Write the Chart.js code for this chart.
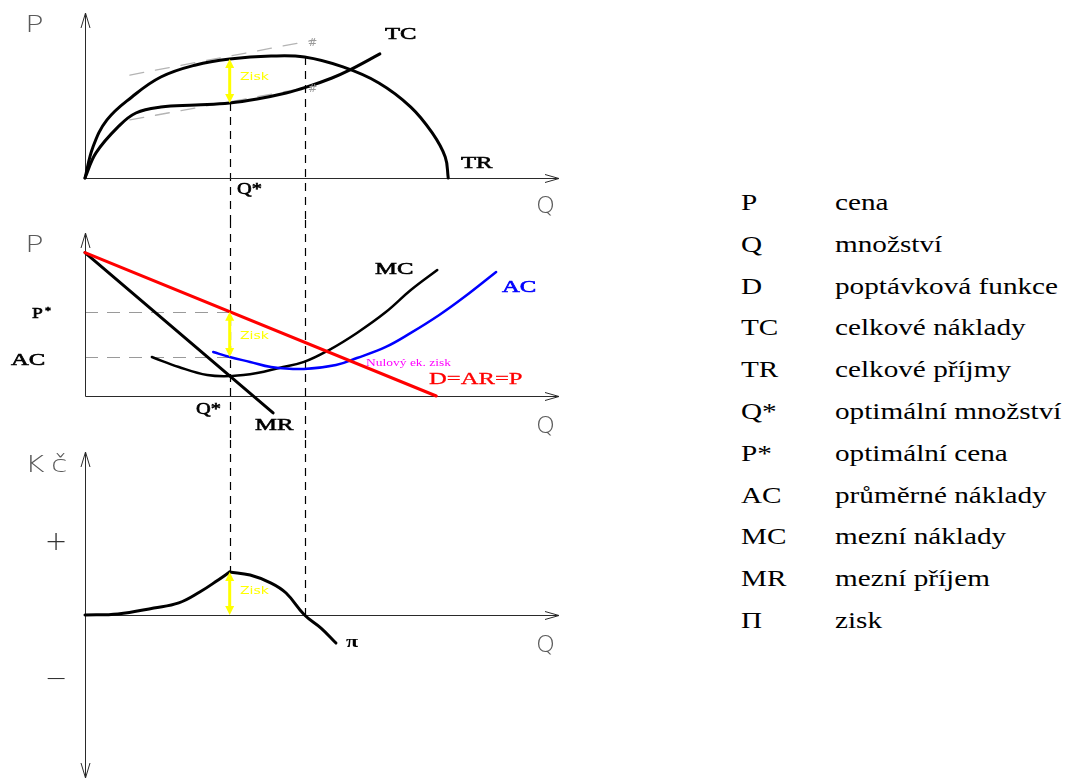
<!DOCTYPE html>
<html>
<head>
<meta charset="utf-8">
<script src="https://cdn.jsdelivr.net/npm/chart.js@4.4.1/dist/chart.umd.min.js"></script>
<style>
  html, body { margin: 0; padding: 0; background: #fff; }
  #wrap { position: relative; width: 1065px; height: 780px; overflow: hidden; background: #fff; }
  #wrap canvas { position: absolute; left: 0; }
  .lg { position: absolute; font-family: "Liberation Serif", "Times New Roman", serif; font-size: 23px;
        line-height: 23px; color: #000; white-space: nowrap; transform: scaleX(1.27); transform-origin: 0 0; }
</style>
</head>
<body>
<div id="wrap">
  <canvas id="c1" width="600" height="220" style="top:0px"></canvas>
  <canvas id="c2" width="600" height="220" style="top:220px"></canvas>
  <canvas id="c3" width="600" height="340" style="top:440px"></canvas>
</div>
<script>
// ---- quantities on the Q axis ----
const Q_OPT = 29;    // Q*  (MR = MC)
const Q_ZERO = 44;   // nulový ekonomický zisk
const Q_MAX = 95;

// ---- top panel: total revenue and total cost ----
const trQ = [0, 1.6, 4.4, 9.4, 15.2, 22.2, 29, 37.3, 44, 51.7, 58.9, 65.3, 69.6, 72.2, 72.8];
const trP = [0, 18.8, 35.2, 49.1, 61.2, 68.5, 72.1, 73.9, 73.3, 67.3, 57.6, 43, 27.3, 12.7, 0];
const tcQ = [0, 2.2, 6.6, 10.2, 15.2, 22.2, 29, 34.5, 40.3, 44.5, 49.5, 53.1, 59.1];
const tcP = [0, 15.2, 30.9, 39.4, 43, 44.2, 45.5, 47.9, 51.5, 55.2, 60.6, 65.5, 75.2];
// parallel tangents (slopes of TR and TC at Q*)
const tanTrQ = [9, 45.9];
const tanTrP = [62.4, 83.6];
const tanTcQ = [9, 45.3];
const tanTcP = [35.2, 55.2];

// ---- middle panel: demand, marginal and average values ----
const dQ = [0, 70.4];
const dP = [88, 0];
const mrQ = [0, 37.7];
const mrP = [88, -10.4];
const mcQ = [13.4, 18.8, 24.5, 29.5, 34.5, 38.9, 43.9, 48.9, 54.5, 60.3, 65.3, 70.6];
const mcP = [23.9, 17.8, 12.9, 12.3, 14.1, 17.2, 20.9, 28.2, 38.7, 51.5, 65, 77.3];
const acQ = [25.7, 29, 33.1, 37.3, 43.9, 50.3, 54.5, 60.3, 65.3, 71, 76, 82.4];
const acP = [27, 23.9, 20.9, 17.8, 16.6, 19, 23.3, 30.1, 38.7, 49.7, 60.7, 76.1];

// ---- bottom panel: profit ----
const piQ = [0, 6.6, 13.8, 18.8, 23, 26.7, 29, 33.1, 37.3, 40.3, 44, 47.3, 50.3];
const piV = [0, 0.6, 4.3, 7.4, 14.1, 21.5, 26.4, 24.5, 19.6, 13.5, 0, -8, -17.2];
const profitTicks = [44, -40];
const profitTickLabels = ['+', '\u2212'];

// ---- legend ----
const legendSymbols = ['P', 'Q', 'D', 'TC', 'TR', 'Q*', 'P*', 'AC', 'MC', 'MR', '\u03A0'];
const legendMeanings = ['cena', 'množství', 'poptávková funkce', 'celkové náklady', 'celkové příjmy',
  'optimální množství', 'optimální cena', 'průměrné náklady', 'mezní náklady', 'mezní příjem', 'zisk'];

// ---------------------------------------------------------------
const pts = (xs, ys) => xs.map((x, i) => ({ x, y: ys[i] }));
function valueAt(xs, ys, q) {
  for (let i = 0; i < xs.length - 1; i++) {
    if (q >= xs[i] && q <= xs[i + 1]) {
      const t = (q - xs[i]) / (xs[i + 1] - xs[i]);
      return ys[i] + t * (ys[i + 1] - ys[i]);
    }
  }
  return ys[ys.length - 1];
}
const P_STAR = valueAt(dQ, dP, Q_OPT);
const AC_OPT = valueAt(acQ, acP, Q_OPT);
const peak = piQ.indexOf(Q_OPT);

const SERIF = '"Liberation Serif", "Times New Roman", serif';
const THIN = '"DejaVu Sans", "Liberation Sans", sans-serif';
const AXIS_FONT = '200 23px ' + THIN;
const AXIS_COLOR = '#5a5a5a';
const LBL = '17px ' + SERIF;
const WIDE = 1.45;
const ZISK_FONT = '10px ' + THIN;
const YELLOW = '#ffff00';

function arrowHead(ctx, x, y, dx, dy, len, half) {
  // open V arrowhead pointing along (dx,dy)
  const px = -dy, py = dx;
  ctx.beginPath();
  ctx.moveTo(x - dx * len + px * half, y - dy * len + py * half);
  ctx.lineTo(x, y);
  ctx.lineTo(x - dx * len - px * half, y - dy * len - py * half);
  ctx.stroke();
}
function solidHead(ctx, x, y, dir) {
  ctx.beginPath();
  ctx.moveTo(x, y);
  ctx.lineTo(x - 4.5, y + dir * 9);
  ctx.lineTo(x + 4.5, y + dir * 9);
  ctx.closePath();
  ctx.fill();
}
function yPix(chart, v) {
  if (v === 'top') return 0;
  if (v === 'bottom') return chart.height;
  return chart.scales.y.getPixelForValue(v);
}

const decor = {
  id: 'decor',
  beforeDatasetsDraw(chart, args, o) {
    const ctx = chart.ctx, xs = chart.scales.x, ys = chart.scales.y, ca = chart.chartArea;
    ctx.save();
    // dashed guide lines
    (o.guides || []).forEach(g => {
      ctx.beginPath();
      ctx.strokeStyle = g.color; ctx.lineWidth = g.width; ctx.setLineDash(g.dash);
      if (g.type === 'v') {
        const x = Math.round(xs.getPixelForValue(g.x)) + 0.5;
        ctx.moveTo(x, yPix(chart, g.from)); ctx.lineTo(x, yPix(chart, g.to));
      } else {
        const y = Math.round(ys.getPixelForValue(g.y)) + 0.5;
        ctx.moveTo(xs.getPixelForValue(g.x1), y); ctx.lineTo(xs.getPixelForValue(g.x2), y);
      }
      ctx.stroke();
    });
    ctx.setLineDash([]);
    // axes with open arrowheads
    const x0 = Math.round(xs.getPixelForValue(0)) + 0.5;
    const y0 = Math.round(ys.getPixelForValue(0)) + 0.5;
    ctx.strokeStyle = '#2a2a2a'; ctx.lineWidth = 1;
    ctx.beginPath();
    ctx.moveTo(x0, ca.top); ctx.lineTo(x0, o.yDown ? ca.bottom : y0);
    ctx.moveTo(x0, y0); ctx.lineTo(ca.right, y0);
    ctx.stroke();
    arrowHead(ctx, x0, ca.top, 0, -1, 15, 4.5);
    if (o.yDown) arrowHead(ctx, x0, ca.bottom, 0, 1, 15, 4.5);
    arrowHead(ctx, ca.right, y0, 1, 0, 14, 4);
    // sign ticks
    if (o.signs) {
      ctx.fillStyle = '#333'; ctx.font = '200 27px ' + THIN; ctx.textAlign = 'center'; ctx.textBaseline = 'middle';
      o.signs.values.forEach((v, i) => ctx.fillText(o.signs.labels[i], o.signs.x, ys.getPixelForValue(v)));
    }
    ctx.restore();
  },
  afterDatasetsDraw(chart, args, o) {
    const ctx = chart.ctx, xs = chart.scales.x, ys = chart.scales.y;
    ctx.save();
    (o.arrows || []).forEach(a => {
      const x = xs.getPixelForValue(a.x);
      const yt = ys.getPixelForValue(a.top), yb = ys.getPixelForValue(a.bottom);
      ctx.strokeStyle = YELLOW; ctx.fillStyle = YELLOW; ctx.lineWidth = 3;
      ctx.beginPath(); ctx.moveTo(x, yt + 6); ctx.lineTo(x, yb - 6); ctx.stroke();
      solidHead(ctx, x, yt, 1); solidHead(ctx, x, yb, -1);
    });
    (o.labels || []).forEach(l => {
      ctx.save();
      ctx.font = l.font; ctx.fillStyle = l.color || '#000';
      ctx.textAlign = 'left'; ctx.textBaseline = 'alphabetic';
      if (l.spacing) ctx.letterSpacing = l.spacing;
      ctx.translate(l.x, l.y - o.top);
      if (l.sx) ctx.scale(l.sx, 1);
      ctx.fillText(l.text, 0, 0);
      if (l.heavy) { ctx.strokeStyle = l.color || '#000'; ctx.lineWidth = l.heavy; ctx.strokeText(l.text, 0, 0); }
      ctx.restore();
    });
    ctx.restore();
  }
};
Chart.register(decor);

function options(yMin, yMax, padding, decorCfg) {
  return {
    responsive: false, animation: false, devicePixelRatio: 1, events: [],
    layout: { padding },
    scales: {
      x: { type: 'linear', min: 0, max: Q_MAX, display: false },
      y: { type: 'linear', min: yMin, max: yMax, display: false }
    },
    elements: { point: { radius: 0 }, line: { tension: 0.4, borderCapStyle: 'round', borderJoinStyle: 'round' } },
    plugins: { legend: { display: false }, tooltip: { enabled: false }, decor: decorCfg }
  };
}
function line(data, color, width, extra) {
  return Object.assign({ data, borderColor: color, borderWidth: width, fill: false, clip: false, pointRadius: 0 }, extra || {});
}
const axisLabel = (text, x, y, extra) => Object.assign({ text, x, y, font: AXIS_FONT, color: AXIS_COLOR }, extra || {});
const tag = (text, x, y, extra) => Object.assign({ text, x, y, font: LBL, sx: WIDE, heavy: 0.6 }, extra || {});
const zisk = (y) => ({ text: 'Zisk', x: 240, y, font: ZISK_FONT, color: YELLOW, sx: 1.4 });

// ---- panel 1: TR, TC ----
new Chart(document.getElementById('c1'), {
  type: 'line',
  data: {
    datasets: [
      line(pts(trQ, trP), '#000', 3),
      line(pts(tcQ, tcP), '#000', 3),
      line(pts(tanTrQ, tanTrP), '#b4b4b4', 1.3, { tension: 0, borderDash: [14, 12], order: 2 }),
      line(pts(tanTcQ, tanTcP), '#b4b4b4', 1.3, { tension: 0, borderDash: [14, 12], order: 2 })
    ]
  },
  options: options(0, 100, { left: 85, right: 41, top: 13, bottom: 42 }, {
    top: 0,
    guides: [
      { type: 'v', x: Q_OPT, from: valueAt(tcQ, tcP, Q_OPT), to: 'bottom', color: '#000', width: 1.2, dash: [8, 6] },
      { type: 'v', x: Q_ZERO, from: valueAt(trQ, trP, Q_ZERO), to: 'bottom', color: '#000', width: 1.2, dash: [8, 6] }
    ],
    arrows: [{ x: Q_OPT, top: valueAt(trQ, trP, Q_OPT), bottom: valueAt(tcQ, tcP, Q_OPT) }],
    labels: [
      axisLabel('P', 25, 32, { sx: 1.35 }),
      axisLabel('Q', 536, 213, { sx: 1.05 }),
      tag('TC', 385, 39),
      tag('TR', 461, 168),
      tag('Q*', 237, 194, { sx: 1.2 }),
      zisk(80),
      { text: '#', x: 308, y: 46, font: 'italic 11px ' + THIN, color: '#9a9a9a' },
      { text: '#', x: 308, y: 92, font: 'italic 11px ' + THIN, color: '#9a9a9a' }
    ]
  })
});

// ---- panel 2: D = AR = P, MR, MC, AC ----
new Chart(document.getElementById('c2'), {
  type: 'line',
  data: {
    datasets: [
      line(pts(dQ, dP), '#ff0000', 3, { tension: 0 }),
      line(pts(mrQ, mrP), '#000', 3, { tension: 0 }),
      line(pts(acQ, acP), '#0000ff', 2.5),
      line(pts(mcQ, mcP), '#000', 2.5)
    ]
  },
  options: options(0, 100, { left: 85, right: 41, top: 13, bottom: 44 }, {
    top: 220,
    guides: [
      { type: 'v', x: Q_OPT, from: 'top', to: 'bottom', color: '#000', width: 1.2, dash: [8, 6] },
      { type: 'v', x: Q_ZERO, from: 'top', to: 'bottom', color: '#000', width: 1.2, dash: [8, 6] },
      { type: 'h', y: P_STAR, x1: 0, x2: Q_OPT, color: '#9a9a9a', width: 1, dash: [13, 9] },
      { type: 'h', y: AC_OPT, x1: 0, x2: Q_OPT, color: '#9a9a9a', width: 1, dash: [13, 9] }
    ],
    arrows: [{ x: Q_OPT, top: P_STAR, bottom: AC_OPT }],
    labels: [
      axisLabel('P', 25, 252, { sx: 1.35 }),
      axisLabel('Q', 536, 433, { sx: 1.05 }),
      tag('MC', 375, 274),
      tag('AC', 502, 292, { color: '#0000ff' }),
      tag('P', 32, 318, { font: '15px ' + SERIF, sx: 1.3 }),
      tag('*', 45, 314, { font: '10px ' + SERIF, sx: 1.2 }),
      tag('AC', 11, 365),
      { text: 'Nulový ek. zisk', x: 366, y: 366, font: '10px ' + SERIF, color: '#ff00ff', sx: 1.35 },
      tag('D=AR=P', 429, 384, { color: '#ff0000', heavy: 0.3 }),
      tag('Q*', 196, 414, { sx: 1.2 }),
      tag('MR', 255, 430),
      zisk(339)
    ]
  })
});

// ---- panel 3: profit ----
new Chart(document.getElementById('c3'), {
  type: 'line',
  data: {
    datasets: [
      line(pts(piQ.slice(0, peak + 1), piV.slice(0, peak + 1)), '#000', 3),
      line(pts(piQ.slice(peak), piV.slice(peak)), '#000', 3)
    ]
  },
  options: options(-100, 100, { left: 85, right: 41, top: 12, bottom: 2 }, {
    top: 440,
    yDown: true,
    signs: { x: 56, values: profitTicks, labels: profitTickLabels },
    guides: [
      { type: 'v', x: Q_OPT, from: 'top', to: valueAt(piQ, piV, Q_OPT), color: '#000', width: 1.2, dash: [8, 6] },
      { type: 'v', x: Q_ZERO, from: 'top', to: 0, color: '#000', width: 1.2, dash: [8, 6] }
    ],
    arrows: [{ x: Q_OPT, top: valueAt(piQ, piV, Q_OPT), bottom: 0 }],
    labels: [
      axisLabel('Kč', 25, 472, { sx: 1.3, spacing: '5px' }),
      axisLabel('Q', 536, 652, { sx: 1.05 }),
      tag('\u03C0', 346, 647, { font: 'bold 17px ' + SERIF, sx: 1.3, heavy: 0 }),
      zisk(594)
    ]
  })
});

// ---- legend ----
const wrap = document.getElementById('wrap');
legendSymbols.forEach((s, i) => {
  const top = 191 + i * 41.8;
  const a = document.createElement('div');
  a.className = 'lg'; a.style.left = '741px'; a.style.top = top + 'px'; a.textContent = s;
  const b = document.createElement('div');
  b.className = 'lg'; b.style.left = '835px'; b.style.top = top + 'px'; b.textContent = legendMeanings[i];
  wrap.appendChild(a); wrap.appendChild(b);
});
</script>
</body>
</html>
